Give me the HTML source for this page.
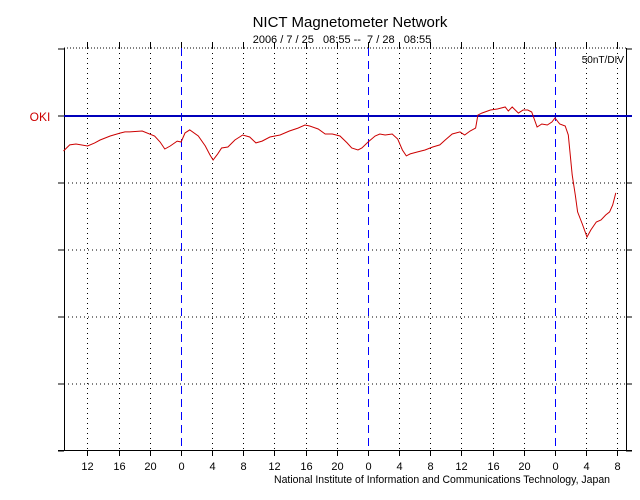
<!DOCTYPE html>
<html><head><meta charset="utf-8"><style>
html,body{margin:0;padding:0;background:#fff;}
svg{display:block;font-family:"Liberation Sans",sans-serif;}
.day{stroke:#0000ff;stroke-width:1;stroke-dasharray:8,5;}
</style></head><body>
<svg id="chart" width="640" height="500" viewBox="0 0 640 500">
<text x="350" y="27" font-size="15" text-anchor="middle">NICT Magnetometer Network</text>
<text x="342" y="43" font-size="11" text-anchor="middle" xml:space="preserve">2006 / 7 / 25   08:55 --  7 / 28   08:55</text>
<text x="40" y="121" font-size="12" fill="#cc0000" text-anchor="middle">OKI</text>
<text x="624" y="63" font-size="10" text-anchor="end">50nT/DIV</text>
<text x="274" y="483" font-size="11" textLength="336" lengthAdjust="spacingAndGlyphs">National Institute of Information and Communications Technology, Japan</text>
<g id="grid"></g>
<g id="days"></g>
<g id="axes"></g>
<g id="series"></g>
</svg>
<script>
const times = [0,0.8,1.6,3.1,4.0,4.7,6.0,7.3,7.9,8.5,10.1,11.7,12.4,13.0,13.7,14.6,15.1,15.6,16.2,17.3,18.2,18.8,19.2,19.8,20.3,21.1,22.0,23.0,23.9,24.7,25.5,26.5,27.8,29.0,30.1,31.0,31.6,32.7,33.6,34.5,35.5,36.4,37.0,37.8,38.3,39.1,40.0,40.6,41.3,42.2,42.9,43.5,44.0,44.5,45.4,46.4,47.4,48.3,49.0,49.9,50.9,51.5,52.2,52.9,53.2,53.7,54.8,55.7,56.7,57.1,57.6,58.4,59.0,59.6,60.1,60.8,61.4,62.1,62.7,63.1,63.7,64.4,64.8,65.3,65.7,66.0,66.6,67.2,67.7,68.4,69.0,69.6,70.1,70.5,70.9];
const values = [-26.1,-21.6,-20.9,-22.4,-20.1,-17.9,-14.9,-12.7,-11.9,-11.9,-11.2,-14.9,-19.4,-24.6,-22.4,-18.7,-19.4,-12.7,-10.4,-14.9,-22.4,-29.1,-32.8,-28.3,-23.9,-23.1,-17.9,-14.2,-15.7,-20.1,-18.7,-15.7,-14.2,-11.2,-9.0,-6.7,-7.5,-9.7,-13.4,-13.4,-14.9,-20.1,-23.9,-25.4,-23.9,-19.4,-14.9,-13.4,-14.2,-13.4,-17.2,-25.4,-29.8,-28.3,-26.9,-25.4,-23.1,-21.6,-17.9,-13.4,-11.9,-14.2,-11.2,-9.0,0.7,2.2,4.5,5.2,6.7,3.7,6.7,2.2,4.5,4.5,3.0,-8.2,-6.0,-6.7,-4.5,-1.5,-6.0,-7.5,-14.2,-44.0,-59.0,-71.6,-80.6,-90.3,-85.0,-79.1,-77.6,-73.9,-71.6,-66.4,-57.4];
const tickHours = [3.08,7.08,11.08,15.08,19.08,23.08,27.08,31.08,35.08,39.08,43.08,47.08,51.08,55.08,59.08,63.08,67.08,71.08];
const tickLabels = ["12","16","20","0","4","8","12","16","20","0","4","8","12","16","20","0","4","8"];
const dayHours = [15.08,39.08,63.08];
const levels = [50,0,-50,-100,-150,-200,-250];

const L=64,R=626,T=48,B=450;
const x = h => 63.5 + h*7.79;
const y = v => 116 - v*67/50;
const NS="http://www.w3.org/2000/svg";
function mk(parent,tag,attrs){const e=document.createElementNS(NS,tag);for(const k in attrs)e.setAttribute(k,attrs[k]);parent.appendChild(e);return e;}
const grid=document.getElementById('grid'),days=document.getElementById('days'),axes=document.getElementById('axes'),series=document.getElementById('series');

levels.forEach((lv,i)=>{
  const yy=y(lv);
  if(i>0 && i<levels.length-1 && lv!==0){
    const g=mk(grid,'line',{x1:L,x2:R,y1:yy,y2:yy,stroke:'#000','stroke-width':1,'stroke-dasharray':'1,3'});
    
    
  }
  const t1=mk(axes,'line',{x1:L-6,x2:L,y1:yy,y2:yy,stroke:'#000'});
  
  
  const t2=mk(axes,'line',{x1:R,x2:R+6,y1:yy,y2:yy,stroke:'#000'});
  
  
});
const topl=mk(grid,'line',{x1:L,x2:R,y1:T,y2:T,stroke:'#000','stroke-dasharray':'1,2'});



tickHours.forEach((h,i)=>{
  const xx=Math.round(x(h))+0.5;
  if(tickLabels[i]!=="0"){
    const g=mk(grid,'line',{x1:xx,x2:xx,y1:T,y2:B,stroke:'#000','stroke-width':1,'stroke-dasharray':'1,4'});
    
    
  }
  const tt=mk(axes,'line',{x1:xx,x2:xx,y1:T-6,y2:T,stroke:'#000'});
  
  
  const tb=mk(axes,'line',{x1:xx,x2:xx,y1:B,y2:B+6,stroke:'#000'});
  
  
  const lb=mk(axes,'text',{x:xx,y:B+20,'font-size':11,'text-anchor':'middle'});
  lb.textContent=tickLabels[i];
  
  
});
dayHours.forEach(h=>{
  const xx=Math.round(x(h))+0.5;
  const d=mk(days,'line',{x1:xx,x2:xx,y1:T,y2:B,'class':'day'});
  
  
});

const ax1=mk(axes,'line',{x1:L+0.5,x2:L+0.5,y1:T,y2:B,stroke:'#000'});


const ax2=mk(axes,'line',{x1:R+0.5,x2:R+0.5,y1:T,y2:B,stroke:'#000'});


const ax3=mk(axes,'line',{x1:L-6,x2:R+6,y1:B+0.5,y2:B+0.5,stroke:'#000'});


const base=mk(axes,'line',{x1:L,x2:R+6,y1:y(0),y2:y(0),stroke:'#0000bb','stroke-width':2});



const pts=times.map((t,i)=>x(t).toFixed(1)+','+y(values[i]).toFixed(1)).join(' ');
const pl=mk(series,'polyline',{points:pts,fill:'none',stroke:'#cc0000','stroke-width':1});


</script>
</body></html>
